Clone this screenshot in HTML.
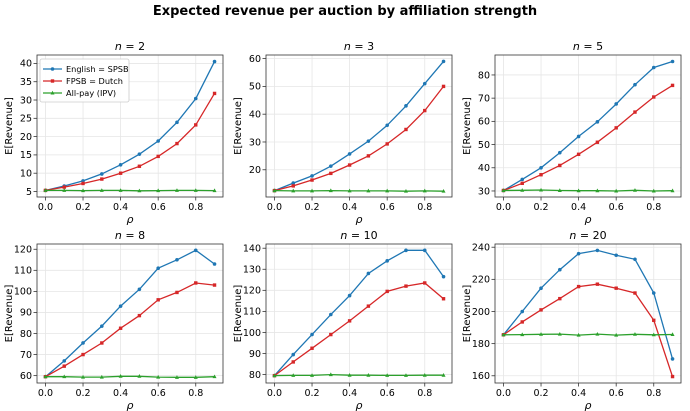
<!DOCTYPE html>
<html><head><meta charset="utf-8"><style>
html,body{margin:0;padding:0;background:#fff;}
svg{display:block;font-family:"DejaVu Sans","Liberation Sans",sans-serif;}
</style></head><body>
<svg id="s" width="690" height="411" viewBox="0 0 690 411"></svg>
<script>
const s=document.getElementById('s');
let h='<text x="345" y="15" text-anchor="middle" font-size="13" font-weight="bold">Expected revenue per auction by affiliation strength</text>';
const P=[
{n:2,x:37,y:55,yl:[3.5,42.3],t:[5,10,15,20,25,30,35,40],
E:[5.3,6.5,7.9,9.8,12.3,15.2,18.8,23.9,30.4,40.5],F:[5.3,6.2,7.2,8.4,10.0,11.9,14.6,18.1,23.2,31.8],A:[5.3,5.3,5.25,5.3,5.3,5.2,5.25,5.3,5.3,5.25]},
{n:3,x:266,y:55,yl:[10.2,61.3],t:[20,30,40,50,60],
E:[12.5,15.2,17.8,21.3,25.7,30.3,36,43,51,59],F:[12.5,14.2,16.3,18.7,21.7,25,29.3,34.5,41.3,50],A:[12.5,12.4,12.4,12.5,12.4,12.4,12.4,12.3,12.4,12.3]},
{n:5,x:495,y:55,yl:[27.4,88.6],t:[30,40,50,60,70,80],
E:[30.2,35,40,46.5,53.5,59.8,67.5,75.8,83.2,85.8],F:[30.2,33.3,37,41,45.8,51,57.2,64,70.5,75.5],A:[30.2,30.3,30.4,30.2,30.1,30.1,30.0,30.3,30.0,30.1]},
{n:8,x:37,y:244,yl:[56.5,122.5],t:[60,70,80,90,100,110,120],
E:[59.5,67,75.5,83.5,93,101,111,115,119.5,113],F:[59.5,64.5,70,75.5,82.5,88.5,96,99.5,104,103],A:[59.5,59.5,59.3,59.3,59.7,59.7,59.3,59.2,59.2,59.5]},
{n:10,x:266,y:244,yl:[76,142],t:[80,90,100,110,120,130,140],
E:[79.5,89.5,99,108.5,117.5,128,134,139,139,126.5],F:[79.5,86,92.5,99,105.5,112.5,119.5,122,123.5,116],A:[79.5,79.6,79.6,80,79.7,79.7,79.6,79.6,79.7,79.7]},
{n:20,x:495,y:244,yl:[155.5,242],t:[160,180,200,220,240],
E:[185.5,200,214.5,226,236,238,235,232.5,211.5,170.5],F:[185.5,193.5,201,208,215.5,217,214.5,211.5,194.5,159.5],A:[185.5,185.6,185.8,185.9,185.3,185.9,185.3,185.8,185.5,185.7]}
];
const W=186;
P.forEach(p=>{
 const H=p.y<100?142:139;
 const X=v=>p.x+(v+0.045)/0.99*W, Y=v=>p.y+H-(v-p.yl[0])/(p.yl[1]-p.yl[0])*H;
 for(let i=0;i<=4;i++){const xx=X(i*0.2);h+=`<line x1="${xx}" y1="${p.y}" x2="${xx}" y2="${p.y+H}" stroke="#e6e6e6" stroke-width="0.8"/><line x1="${xx}" y1="${p.y+H}" x2="${xx}" y2="${p.y+H+3.5}" stroke="#333" stroke-width="0.8"/><text x="${xx}" y="${p.y+H+13}" font-size="9.5" text-anchor="middle">${(i*0.2).toFixed(1)}</text>`;}
 p.t.forEach(t=>{const yy=Y(t);h+=`<line x1="${p.x}" y1="${yy}" x2="${p.x+W}" y2="${yy}" stroke="#e6e6e6" stroke-width="0.8"/><line x1="${p.x-3.5}" y1="${yy}" x2="${p.x}" y2="${yy}" stroke="#333" stroke-width="0.8"/><text x="${p.x-5}" y="${yy+3.3}" font-size="9.5" text-anchor="end">${t}</text>`;});
 const ser=(d,c,m)=>{let pts=d.map((v,i)=>X(i*0.1).toFixed(1)+','+Y(v).toFixed(1));h+=`<polyline points="${pts.join(' ')}" fill="none" stroke="${c}" stroke-width="1.3"/>`;
  d.forEach((v,i)=>{const cx=X(i*0.1),cy=Y(v);if(m=='o')h+=`<circle cx="${cx}" cy="${cy}" r="1.8" fill="${c}"/>`;else if(m=='s')h+=`<rect x="${cx-1.7}" y="${cy-1.7}" width="3.4" height="3.4" fill="${c}"/>`;else h+=`<polygon points="${cx},${cy-2.2} ${cx-2},${cy+1.5} ${cx+2},${cy+1.5}" fill="${c}"/>`;});};
 ser(p.E,'#1f77b4','o');ser(p.F,'#d62728','s');ser(p.A,'#2ca02c','^');
 h+=`<rect x="${p.x}" y="${p.y}" width="${W}" height="${H}" fill="none" stroke="#333" stroke-width="0.8"/>`;
 h+=`<text x="${p.x+W/2}" y="${p.y-5}" font-size="11" text-anchor="middle"><tspan font-style="italic">n</tspan> = ${p.n}</text>`;
 h+=`<text x="${p.x+W/2}" y="${p.y+H+26}" font-size="11" font-style="italic" text-anchor="middle">ρ</text>`;
 const lx=p.x-25,ly=p.y+H/2;h+=`<text x="${lx}" y="${ly}" font-size="10" text-anchor="middle" transform="rotate(-90 ${lx} ${ly})">E[Revenue]</text>`;
});
h+=`<rect x="40" y="59" width="89" height="43" rx="2" fill="#fff" fill-opacity="0.9" stroke="#ccc" stroke-width="0.8"/>`;
[['English = SPSB','#1f77b4','o'],['FPSB = Dutch','#d62728','s'],['All-pay (IPV)','#2ca02c','^']].forEach((l,i)=>{const y=69+i*12;
 h+=`<line x1="43" y1="${y}" x2="62" y2="${y}" stroke="${l[1]}" stroke-width="1.3"/>`;
 if(l[2]=='o')h+=`<circle cx="52.5" cy="${y}" r="1.8" fill="${l[1]}"/>`;else if(l[2]=='s')h+=`<rect x="50.8" y="${y-1.7}" width="3.4" height="3.4" fill="${l[1]}"/>`;else h+=`<polygon points="52.5,${y-2.2} 50.5,${y+1.5} 54.5,${y+1.5}" fill="${l[1]}"/>`;
 h+=`<text x="66" y="${y+3}" font-size="8.2">${l[0]}</text>`;});
s.innerHTML=h;
</script>
</body></html>
